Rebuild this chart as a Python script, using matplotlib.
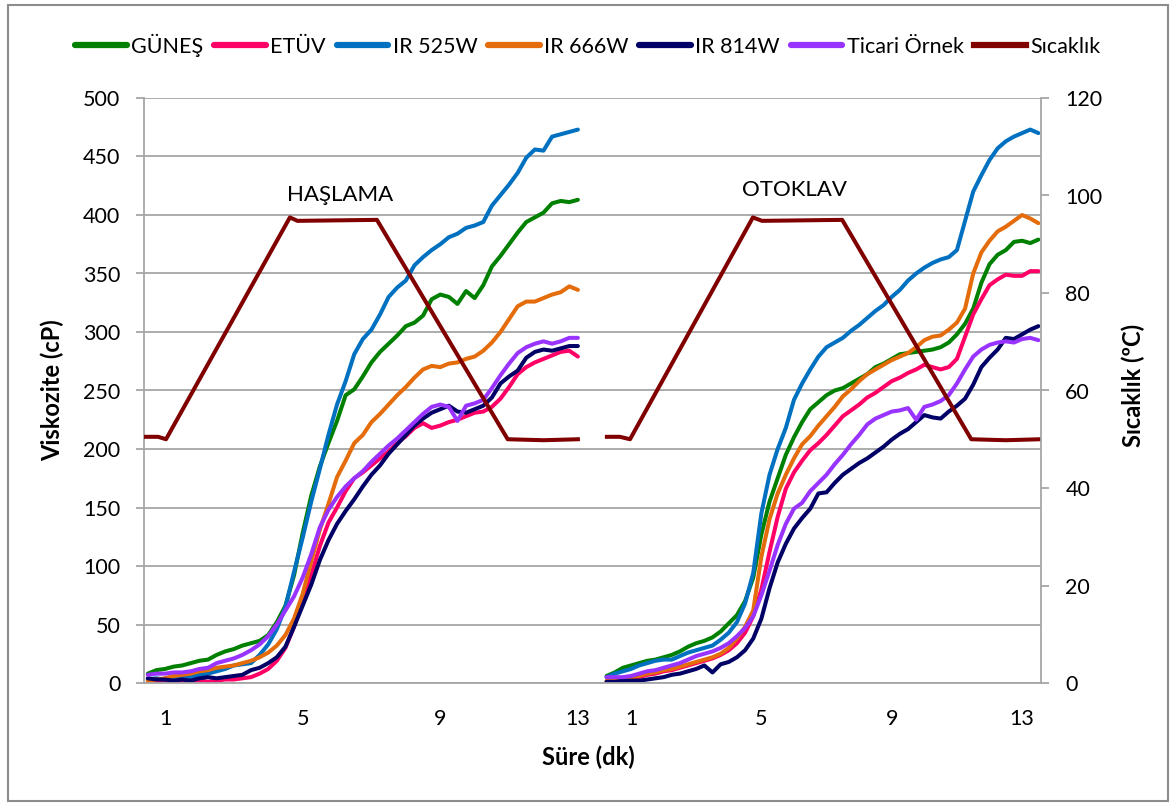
import numpy as np
import matplotlib
matplotlib.use("Agg")
import matplotlib.pyplot as plt
from matplotlib.patches import Rectangle

plt.rcParams['font.family'] = ['Lato', 'DejaVu Sans']

# sure (dk) - sol panel HASLAMA, sag panel OTOKLAV
t_left = np.arange(0.5, 13.01, 0.25)
t_right = np.arange(0.25, 13.51, 0.25)

series_names = ['GÜNEŞ', 'ETÜV', 'IR 525W', 'IR 666W', 'IR 814W', 'Ticari Örnek']
series_colors = ['#008000', '#FF0066', '#0070C0', '#E46C0A', '#000066', '#9933FF']

# viskozite (cP), HASLAMA
gunes_left = [8, 11, 12, 14, 15, 17, 19, 20, 24, 27, 29, 32, 34, 36, 41, 52, 66, 92, 128, 160,
              185, 205, 224, 246, 251, 262, 274, 283, 290, 297, 305, 308, 314, 328, 332, 330,
              324, 335, 329, 340, 356, 365, 375, 385, 394, 398, 402, 410, 412, 411, 413]
etuv_left = [0, 1, 0, 1, 0, 1, 2, 1, 2, 3, 3, 4, 5, 8, 12, 19, 30, 48, 70, 92,
             117, 137, 150, 164, 175, 180, 186, 192, 198, 205, 211, 218, 222, 218, 220, 223,
             225, 228, 231, 232, 236, 243, 253, 264, 270, 274, 277, 280, 283, 284, 279]
ir525_left = [3, 4, 3, 5, 6, 5, 7, 8, 10, 12, 15, 16, 17, 24, 33, 46, 65, 95, 124, 155,
              183, 212, 238, 258, 281, 294, 302, 315, 330, 338, 344, 357, 364, 370, 375, 381,
              384, 389, 391, 394, 408, 417, 426, 436, 449, 456, 455, 467, 469, 471, 473]
ir666_left = [2, 3, 4, 6, 7, 8, 10, 11, 13, 14, 15, 17, 19, 22, 26, 32, 41, 55, 76, 104,
              131, 153, 176, 190, 205, 212, 223, 230, 238, 246, 253, 261, 268, 271, 270, 273,
              274, 277, 279, 284, 291, 300, 311, 322, 326, 326, 329, 332, 334, 339, 336]
ir814_left = [4, 3, 3, 2, 3, 2, 4, 5, 4, 5, 6, 7, 11, 13, 17, 22, 31, 48, 66, 84,
              105, 122, 136, 147, 157, 168, 178, 186, 196, 204, 212, 220, 226, 231, 234, 237,
              232, 231, 234, 237, 244, 256, 262, 267, 278, 283, 285, 284, 286, 288, 288]
ticari_left = [7, 8, 8, 9, 9, 10, 12, 13, 17, 19, 21, 24, 28, 33, 40, 50, 62, 74, 90, 110,
               133, 148, 159, 168, 175, 181, 189, 196, 203, 209, 216, 223, 230, 236, 238, 236,
               224, 237, 239, 242, 252, 263, 273, 282, 287, 290, 292, 290, 292, 295, 295]

# viskozite (cP), OTOKLAV
gunes_right = [6, 9, 13, 15, 17, 19, 20, 22, 24, 27, 31, 34, 36, 39, 44, 51, 58, 70, 90, 127,
               155, 175, 195, 210, 223, 234, 240, 246, 250, 252, 256, 260, 264, 270, 273, 277,
               281, 282, 283, 284, 285, 287, 291, 298, 307, 320, 342, 358, 366, 370, 377, 378,
               376, 379]
etuv_right = [1, 2, 3, 4, 5, 7, 8, 10, 11, 13, 15, 17, 19, 21, 24, 28, 34, 43, 57, 80,
              112, 142, 166, 180, 190, 199, 205, 212, 220, 228, 233, 238, 244, 248, 253, 258,
              261, 265, 268, 272, 270, 268, 270, 277, 296, 315, 328, 340, 345, 349, 348, 348,
              352, 352]
ir525_right = [5, 8, 10, 12, 15, 17, 19, 20, 20, 23, 26, 28, 30, 32, 37, 43, 52, 68, 94, 145,
               178, 200, 218, 242, 256, 268, 279, 287, 291, 295, 301, 306, 312, 318, 323, 330,
               336, 344, 350, 355, 359, 362, 364, 370, 395, 420, 434, 447, 457, 463, 467, 470,
               473, 470]
ir666_right = [2, 3, 4, 5, 6, 8, 9, 11, 12, 14, 16, 18, 20, 22, 25, 30, 38, 48, 62, 108,
               140, 162, 178, 192, 204, 211, 220, 228, 236, 245, 251, 258, 264, 268, 272, 276,
               279, 282, 287, 293, 296, 297, 302, 308, 320, 350, 368, 378, 386, 390, 395, 400,
               397, 393]
ir814_right = [1, 1, 2, 2, 2, 3, 4, 5, 7, 8, 10, 12, 15, 9, 16, 18, 22, 28, 38, 55,
               81, 103, 119, 132, 141, 149, 162, 163, 171, 178, 183, 188, 192, 197, 202, 208,
               213, 217, 223, 229, 227, 226, 232, 237, 243, 255, 270, 278, 285, 295, 294, 298,
               302, 305]
ticari_right = [5, 5, 5, 6, 8, 10, 11, 13, 15, 17, 20, 23, 25, 27, 30, 34, 40, 47, 57, 75,
                96, 118, 136, 149, 154, 164, 171, 178, 187, 195, 204, 212, 221, 226, 229, 232,
                233, 235, 225, 236, 238, 241, 246, 256, 268, 279, 285, 289, 291, 292, 291, 294,
                295, 293]

# sicaklik (C)
temp_t_left = [0.4, 0.8, 1.03, 4.63, 4.85, 7.16, 10.96, 12.0, 13.0]
temp_left = [50.5, 50.5, 50, 95.5, 94.8, 95, 50, 49.8, 50]
temp_t_right = [0.26, 0.66, 0.97, 4.74, 5.02, 7.48, 11.44, 12.5, 13.55]
temp_right = [50.5, 50.5, 50, 95.5, 94.8, 95, 50, 49.8, 50]

left_data = [gunes_left, etuv_left, ir525_left, ir666_left, ir814_left, ticari_left]
right_data = [gunes_right, etuv_right, ir525_right, ir666_right, ir814_right, ticari_right]

W, H = 1176, 805
fig = plt.figure(figsize=(W / 100, H / 100), dpi=100)
fig.patch.set_facecolor('white')

# chart border like excel
fig.patches.append(Rectangle((8 / W, 1 - 801 / H), 1160 / W, 796 / H, transform=fig.transFigure,
                             fill=False, edgecolor='#8c8c8c', linewidth=1.5))

bottom = 1 - 683 / H
height = 585 / H
ax1 = fig.add_axes([144 / W, bottom, (592 - 144) / W, height])
ax2 = fig.add_axes([592 / W, bottom, (1041 - 592) / W, height])
tw1 = ax1.twinx()
tw2 = ax2.twinx()

grid_c = '#a6a6a6'
lines = []
for ax, tt, data in [(ax1, t_left, left_data), (ax2, t_right, right_data)]:
    for name, col, vals in zip(series_names, series_colors, data):
        ln, = ax.plot(tt, vals, color=col, lw=2.9, label=name, solid_capstyle='round')
        if ax is ax1:
            lines.append(ln)
    ax.set_ylim(0, 500)
    ax.set_yticks(np.arange(0, 501, 50))
    ax.grid(axis='y', color=grid_c, lw=1.3)
    ax.set_axisbelow(True)
    ax.set_xticks([1, 5, 9, 13])
    ax.tick_params(axis='x', length=0, pad=19, labelsize=15.5)
    for s in ax.spines.values():
        s.set_visible(False)
    ax.spines['bottom'].set_visible(True)
    ax.spines['bottom'].set_color(grid_c)
    ax.spines['bottom'].set_linewidth(1.3)
    ax.patch.set_alpha(0)

ax1.set_xlim(0.39, 13.41)
ax2.set_xlim(-0.197, 13.58)

ax1.spines['left'].set_visible(True)
ax1.spines['left'].set_color(grid_c)
ax1.spines['left'].set_linewidth(1.3)
ax1.tick_params(axis='y', length=6, width=1.3, color=grid_c, pad=11, labelsize=15.5)
ax2.tick_params(axis='y', left=False, labelleft=False)

tl, = tw1.plot(temp_t_left, temp_left, color='#800000', lw=2.9, label='Sıcaklık')
tw2.plot(temp_t_right, temp_right, color='#800000', lw=2.9)
lines.append(tl)
for tw in (tw1, tw2):
    tw.set_ylim(0, 120)
    for s in tw.spines.values():
        s.set_visible(False)
tw1.tick_params(axis='y', right=False, labelright=False)
tw2.set_yticks(np.arange(0, 121, 20))
tw2.spines['right'].set_visible(True)
tw2.spines['right'].set_color(grid_c)
tw2.spines['right'].set_linewidth(1.3)
tw2.tick_params(axis='y', length=6, width=1.3, color=grid_c, pad=11.5, labelsize=15.5)

ax1.text(6.08, 417, 'HAŞLAMA', fontsize=16, ha='center', va='center')
ax2.text(6.03, 421, 'OTOKLAV', fontsize=16, ha='center', va='center')

fig.text(52 / W, 1 - 390 / H, 'Viskozite (cP)', rotation=90, ha='center', va='center',
         fontsize=17, fontweight='bold')
fig.text(1133 / W, 1 - 385 / H, 'Sıcaklık (ºC)', rotation=90, ha='center', va='center',
         fontsize=17, fontweight='bold')
fig.text(588 / W, 1 - 757 / H, 'Süre (dk)', ha='center', va='center',
         fontsize=17, fontweight='bold')

leg = fig.legend(handles=lines, loc='center', bbox_to_anchor=(588 / W, 1 - 45 / H), ncol=7,
                 frameon=False, fontsize=15.5, handlelength=2.4, handletextpad=0.2,
                 columnspacing=0.5)
for h in leg.get_lines():
    h.set_linewidth(4.5)

fig.savefig('out.png', dpi=100)
